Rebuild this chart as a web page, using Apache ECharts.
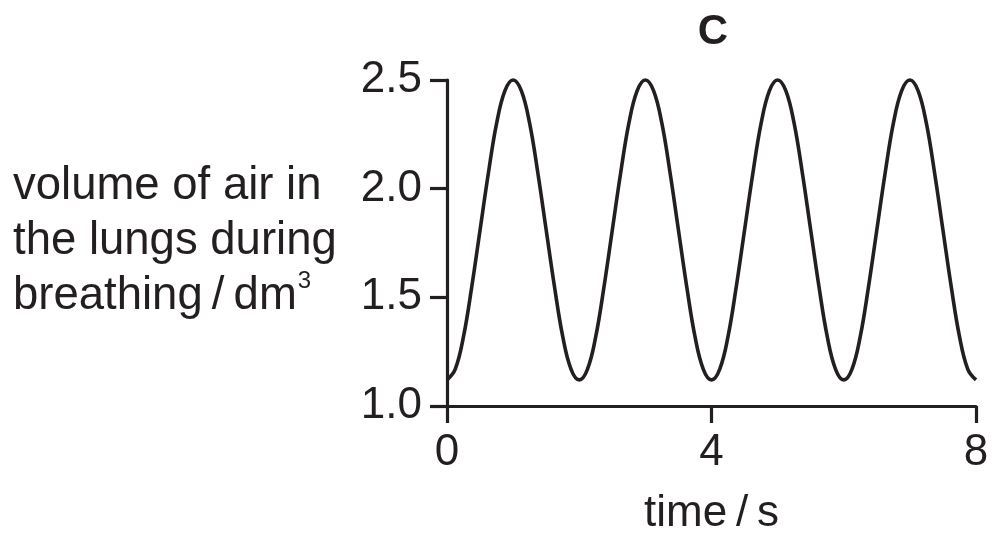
<!DOCTYPE html>
<html>
<head>
<meta charset="utf-8">
<script src="https://cdn.jsdelivr.net/npm/echarts@6/dist/echarts.min.js"></script>
<style>
  html, body { margin: 0; padding: 0; background: #fff; }
  #main { width: 998px; height: 546px; }
</style>
</head>
<body>
<div id="main"></div>
<script>
/*
 * 肺容量随时间变化曲线
 */
var panelTitle = 'C';
var xName = 'time\u2009/\u2009s';
var yNameLines = ['volume of air in', 'the lungs during', 'breathing\u2009/\u2009dm'];

// 时间 (s)
var times = [
  0, 0.125, 0.25, 0.375, 0.5, 0.625, 0.75, 0.875,
  1, 1.125, 1.25, 1.375, 1.5, 1.625, 1.75, 1.875,
  2, 2.125, 2.25, 2.375, 2.5, 2.625, 2.75, 2.875,
  3, 3.125, 3.25, 3.375, 3.5, 3.625, 3.75, 3.875,
  4, 4.125, 4.25, 4.375, 4.5, 4.625, 4.75, 4.875,
  5, 5.125, 5.25, 5.375, 5.5, 5.625, 5.75, 5.875,
  6, 6.125, 6.25, 6.375, 6.5, 6.625, 6.75, 6.875,
  7, 7.125, 7.25, 7.375, 7.5, 7.625, 7.75, 7.875,
  8
];
// 肺内空气体积 (dm3)
var volumes = [
  1.12, 1.17, 1.32, 1.55, 1.81, 2.07, 2.30, 2.45,
  2.50, 2.45, 2.30, 2.07, 1.81, 1.55, 1.32, 1.17,
  1.12, 1.17, 1.32, 1.55, 1.81, 2.07, 2.30, 2.45,
  2.50, 2.45, 2.30, 2.07, 1.81, 1.55, 1.32, 1.17,
  1.12, 1.17, 1.32, 1.55, 1.81, 2.07, 2.30, 2.45,
  2.50, 2.45, 2.30, 2.07, 1.81, 1.55, 1.32, 1.17,
  1.12, 1.17, 1.32, 1.55, 1.81, 2.07, 2.30, 2.45,
  2.50, 2.45, 2.30, 2.07, 1.81, 1.55, 1.32, 1.17,
  1.12
];

var ink = '#231f20';
var font = 'Liberation Sans, Arial, sans-serif';

var points = [];
for (var i = 0; i < times.length; i++) {
  points.push([times[i], volumes[i]]);
}

var chart = echarts.init(document.getElementById('main'));
var option = {
  animation: false,
  title: {
    text: panelTitle,
    left: 708,
    top: 6,
    textAlign: 'center',
    textStyle: { color: ink, fontFamily: font, fontSize: 42, fontWeight: 'bold' }
  },
  grid: { left: 447, right: 22, top: 80, bottom: 140 },
  xAxis: {
    type: 'value',
    min: 0,
    max: 8,
    interval: 4,
    name: xName,
    nameLocation: 'middle',
    nameGap: 86,
    nameTextStyle: { color: ink, fontFamily: font, fontSize: 44 },
    axisLine: { onZero: false, lineStyle: { color: ink, width: 3.2 } },
    axisTick: { length: 17, lineStyle: { color: ink, width: 3.2 } },
    axisLabel: { margin: 25, color: ink, fontFamily: font, fontSize: 44 },
    splitLine: { show: false }
  },
  yAxis: {
    type: 'value',
    min: 1.0,
    max: 2.5,
    interval: 0.5,
    axisLine: { show: true, onZero: false, lineStyle: { color: ink, width: 3.2 } },
    axisTick: { show: true, length: 17, lineStyle: { color: ink, width: 3.2 } },
    axisLabel: {
      margin: 25, color: ink, fontFamily: font, fontSize: 44,
      formatter: function (v) { return v.toFixed(1); }
    },
    splitLine: { show: false }
  },
  graphic: [{
    type: 'text',
    left: 13,
    top: 159,
    style: {
      text: yNameLines[0] + '\n' + yNameLines[1] + '\n' + yNameLines[2] + '{sup|3}',
      fill: ink,
      font: '45.5px ' + font,
      lineHeight: 55,
      rich: {
        sup: { fontSize: 24, fontFamily: font, fill: ink, verticalAlign: 'top', padding: [0, 0, 2, 1] }
      }
    }
  }],
  series: [{
    type: 'line',
    data: points,
    smooth: 0.4,
    showSymbol: false,
    lineStyle: { color: ink, width: 3.6 },
    clip: false
  }]
};
chart.setOption(option);
</script>
</body>
</html>
